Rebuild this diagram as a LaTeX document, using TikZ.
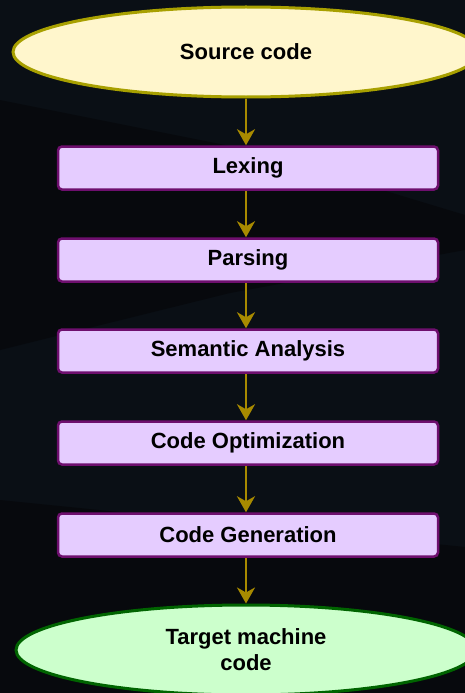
\documentclass[tikz,border=0pt]{standalone}
\usepackage{fontspec}
\setmainfont{Liberation Sans}
\usetikzlibrary{shapes.geometric,arrows.meta,positioning}

\definecolor{bgdark}{HTML}{0A0F15}
\definecolor{bgshade}{HTML}{07090D}
\definecolor{flowgold}{HTML}{A88A00}
\definecolor{srcfill}{HTML}{FFF6CC}
\definecolor{srcline}{HTML}{A8A000}
\definecolor{stagefill}{HTML}{E5CCFF}
\definecolor{stageline}{HTML}{6E0F6E}
\definecolor{outfill}{HTML}{CCFFCC}
\definecolor{outline}{HTML}{006400}

\tikzset{
  stage/.style={draw=stageline, fill=stagefill, line width=2.5pt, rounded corners=4pt,
    minimum width=380pt, minimum height=43pt, inner sep=0pt, font=\fontsize{22}{26}\selectfont\bfseries},
  terminal/.style={ellipse, line width=3pt, minimum width=466pt, minimum height=90pt,
    inner sep=0pt, font=\fontsize{22}{26}\selectfont\bfseries, align=center},
  flow/.style={draw=flowgold, line width=2.8pt, -{Stealth[length=16pt,width=18pt,inset=5pt]}}
}

\begin{document}
\begin{tikzpicture}[x=1pt,y=-1pt]
    % backdrop with faint streaks
    \fill[bgdark] (0,0) rectangle (465,693);
    \useasboundingbox (0,0) rectangle (465,693);
    \clip (0,0) rectangle (465,693);
    \fill[bgshade] (0,100) -- (250,150) -- (465,215) -- (465,250) -- (230,293) -- (0,350) -- cycle;
    \fill[bgshade] (0,500) -- (465,547) -- (465,693) -- (0,693) -- cycle;

    % pipeline stages
    \node[terminal, draw=srcline, fill=srcfill] (src) at (246,52) {Source code};
    \node[stage] (lex) at (248,168) {Lexing};
    \node[stage] (parse) at (248,260) {Parsing};
    \node[stage] (sem) at (248,351) {Semantic Analysis};
    \node[stage] (opt) at (248,443) {Code Optimization};
    \node[stage] (gen) at (248,535) {Code Generation};
    \node[terminal, draw=outline, fill=outfill, minimum width=460pt] (tgt) at (246,650) {Target machine\\code};

    % arrows between stages, kept on the axis of the ellipses
    \draw[flow] (src) -- (src |- lex.north);
    \draw[flow] (src |- lex.south) -- (src |- parse.north);
    \draw[flow] (src |- parse.south) -- (src |- sem.north);
    \draw[flow] (src |- sem.south) -- (src |- opt.north);
    \draw[flow] (src |- opt.south) -- (src |- gen.north);
    \draw[flow] (src |- gen.south) -- (tgt);
\end{tikzpicture}
\end{document}
